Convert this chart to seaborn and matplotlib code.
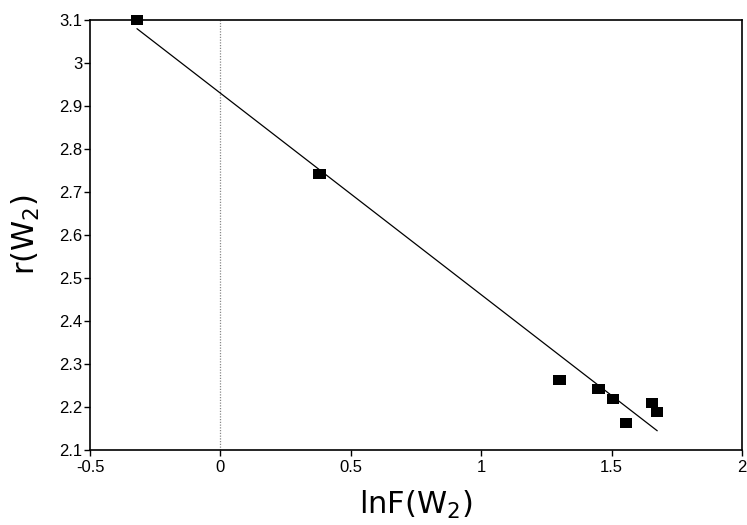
import matplotlib
matplotlib.use("Agg")
import matplotlib.pyplot as plt
import numpy as np
import pandas as pd
import seaborn as sns

# Measured values: ln F(W2) against r(W2)
lnF = [-0.32, 0.38, 1.30, 1.45, 1.505, 1.555, 1.655, 1.675]
r_w2 = [3.100, 2.742, 2.263, 2.242, 2.219, 2.163, 2.209, 2.188]

x_ticks = [-0.5, 0, 0.5, 1, 1.5, 2]
y_ticks = [2.1, 2.2, 2.3, 2.4, 2.5, 2.6, 2.7, 2.8, 2.9, 3.0, 3.1]

sns.set_style("ticks")
plt.rcParams["font.family"] = ["Liberation Sans", "DejaVu Sans"]
plt.rcParams["mathtext.default"] = "regular"
plt.rcParams["text.color"] = "black"
plt.rcParams["axes.labelcolor"] = "black"

df = pd.DataFrame({"lnF": lnF, "r": r_w2})

fig = plt.figure(figsize=(7.47, 5.25), dpi=100)
ax = fig.add_axes([0.1205, 0.1429, 0.8728, 0.819])

# vertical reference line at zero
ax.axvline(0, color="#888888", lw=0.9, ls=(0, (1, 1.2)), zorder=1)

# slightly wide square marker
rect = [(-1, -0.78), (1, -0.78), (1, 0.78), (-1, 0.78), (-1, -0.78)]
sns.regplot(data=df, x="lnF", y="r", ax=ax, ci=None, truncate=True,
            marker=rect,
            scatter_kws=dict(s=80, color="black", alpha=1, edgecolors="none",
                             clip_on=False, zorder=4),
            line_kws=dict(color="black", lw=0.9, zorder=3))

ax.set_xlim(-0.5, 2)
ax.set_ylim(2.1, 3.1)
ax.set_xticks(x_ticks)
ax.set_yticks(y_ticks)
ax.set_xticklabels([f"{v:g}" for v in x_ticks])
ax.set_yticklabels([f"{v:g}" for v in y_ticks])
ax.tick_params(axis="both", direction="out", length=4, width=1,
               labelsize=12, colors="black", pad=1.5)
ax.tick_params(axis="x", pad=3)

for side in ["left", "right", "top", "bottom"]:
    ax.spines[side].set_visible(True)
    ax.spines[side].set_color("black")
    ax.spines[side].set_linewidth(1.2)

ax.set_xlabel("lnF(W$_2$)", fontsize=22, family=["DejaVu Sans"],
              color="black", labelpad=10)
ax.set_ylabel("r(W$_2$)", fontsize=22, family=["DejaVu Sans"],
              color="black", labelpad=12)

fig.savefig("out.png", dpi=100)
